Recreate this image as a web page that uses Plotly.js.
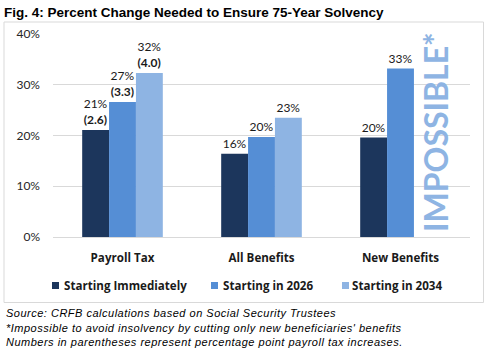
<!DOCTYPE html>
<html><head><meta charset="utf-8">
<script src="https://cdn.plot.ly/plotly-3.0.1.min.js"></script>
<style>html,body{margin:0;padding:0;background:#fff}#chart{width:484px;height:348px}</style>
</head><body><div id="chart"></div>
<script>
const categories = ["Payroll Tax", "All Benefits", "New Benefits"];
const seriesNames = ["Starting Immediately", "Starting in 2026", "Starting in 2034"];
const immediate = [21.1, 16.4, 19.6];
const in2026 = [26.6, 19.7, 33.2];
const in2034 = [32.3, 23.5, null];
const immediateLabels = ["21%<br><b>(2.6)</b>", "16%", "20%"];
const in2026Labels = ["27%<br><b>(3.3)</b>", "20%", "33%"];
const in2034Labels = ["32%<br><b>(4.0)</b>", "23%", ""];
const yTicks = [0, 10, 20, 30, 40];
const yTickLabels = ["0%", "10%", "20%", "30%", "40%"];
const footnotes = [
  "Source: CRFB calculations based on Social Security Trustees",
  "*Impossible to avoid insolvency by cutting only new beneficiaries' benefits",
  "Numbers in parentheses represent percentage point payroll tax increases."
];

const W = 484, H = 348, L = 53, R = 14, T = 34, B = 111;
const pw = W - L - R, ph = H - T - B;
const px = x => (x - L) / pw;
const py = y => (H - B - y) / ph;

const colors = ["#1c365c", "#558ed5", "#8eb4e3"];
const vals = [immediate, in2026, in2034];
const labs = [immediateLabels, in2026Labels, in2034Labels];
const lblFont = {family: "Lato, 'Open Sans', sans-serif", size: 12, color: "#1a1a1a"};
const boldFont = {family: "'Open Sans', sans-serif", size: 11.6, color: "#1a1a1a", weight: "bold"};

const traces = seriesNames.map((n, i) => ({
  type: "bar", name: n, x: categories, y: vals[i],
  marker: {color: colors[i]},
  text: labs[i], textposition: "outside", cliponaxis: false,
  textfont: lblFont, constraintext: "none", hoverinfo: "skip", showlegend: false
}));

const annotations = footnotes.map((t, i) => ({
  xref: "paper", yref: "paper", x: px(4), y: py(313 + i * 14.5),
  xanchor: "left", yanchor: "middle", showarrow: false,
  text: "<span style=\"letter-spacing:0.5px\"><i>" + t + "</i></span>",
  font: {family: "'Liberation Sans', Arial, sans-serif", size: 11, color: "#000"}
}));
annotations.push({
  xref: "paper", yref: "paper", x: px(435), y: py(132), textangle: -90,
  xanchor: "center", yanchor: "middle", showarrow: false, text: "IMPOSSIBLE*",
  font: {family: "Lato, 'Open Sans', sans-serif", size: 32, color: "#8eb4e3", weight: "bold"}
});

// custom legend
const legendSquares = [52, 211, 342];
const legendText = [62, 221, 350];
const shapes = [{type: "rect", xref: "paper", yref: "paper", x0: px(4), x1: px(483.5), y0: py(302.5), y1: py(22),
    line: {color: "#d9d9d9", width: 1}, fillcolor: "rgba(0,0,0,0)", layer: "below"}];
seriesNames.forEach((n, i) => {
  shapes.push({type: "rect", xref: "paper", yref: "paper",
    x0: px(legendSquares[i]), x1: px(legendSquares[i] + 7), y0: py(289), y1: py(282),
    line: {width: 0}, fillcolor: colors[i]});
  annotations.push({xref: "paper", yref: "paper", x: px(legendText[i]), y: py(285.5),
    xanchor: "left", yanchor: "middle", showarrow: false, text: n, font: boldFont});
});

const layout = {
  width: W, height: H, margin: {l: L, r: R, t: T, b: B},
  paper_bgcolor: "#fff", plot_bgcolor: "#fff",
  title: {text: "<b>Fig. 4: Percent Change Needed to Ensure 75-Year Solvency</b>",
    x: 4 / W, xanchor: "left", xref: "container", yref: "container",
    y: 1 - 12 / H, yanchor: "middle",
    font: {family: "'Liberation Sans', Arial, sans-serif", size: 13.5, color: "#000"}},
  barmode: "group", bargap: 0.42, bargroupgap: 0,
  xaxis: {tickfont: boldFont, showline: false, ticks: "", ticklabelstandoff: 12, fixedrange: true},
  yaxis: {range: [0, 40], tickvals: yTicks, ticktext: yTickLabels,
    tickfont: {family: "Lato, 'Open Sans', sans-serif", size: 12, color: "#262626"},
    gridcolor: "#d9d9d9", gridwidth: 1, zeroline: true, zerolinecolor: "#d9d9d9",
    showline: false, ticks: "", ticklabelstandoff: 12},
  showlegend: false,
  annotations: annotations,
  shapes: shapes
};

Plotly.newPlot("chart", traces, layout, {staticPlot: true, displayModeBar: false});
</script></body></html>
